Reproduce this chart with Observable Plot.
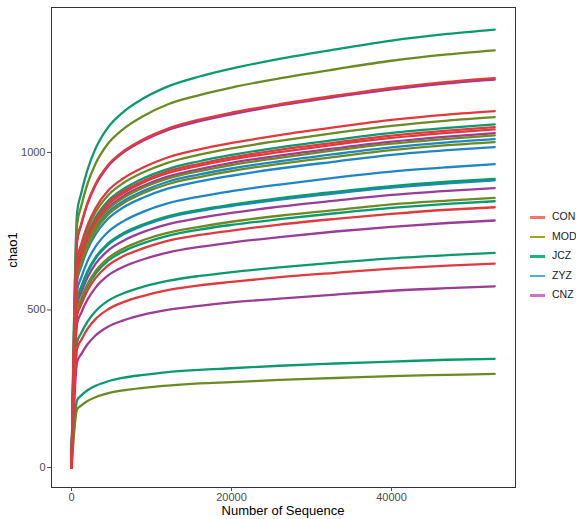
<!DOCTYPE html>
<html><head><meta charset="utf-8">
<script src="https://cdn.jsdelivr.net/npm/d3@7"></script>
<script src="https://cdn.jsdelivr.net/npm/@observablehq/plot@0.6"></script>
<style>
body{margin:0;background:#fff;font-family:"Liberation Sans",Arial,Helvetica,sans-serif;}
#wrap{position:relative;width:576px;height:519px;overflow:hidden;}
#wrap svg{position:absolute;left:0;top:0;}
.ttl{position:absolute;color:#000;font-size:13px;white-space:nowrap;}
.leg{position:absolute;left:530px;font-size:10.5px;color:#222;}
.leg .k{position:absolute;left:0;top:-1px;width:15px;height:2.5px;}
.leg .t{position:absolute;left:22px;top:-7px;white-space:nowrap;}
</style></head><body><div id="wrap"></div>
<script>
const depth = [0, 700, 1200, 2000, 3000, 4500, 6500, 9000, 12000, 16000, 20000, 26000, 33000, 40000, 47000, 52900];
const groups = ["CON", "MOD", "JCZ", "ZYZ", "CNZ"];
const lineColors = ["#E03A3E", "#6B8A24", "#0A9A6E", "#1F86C6", "#9B3C97"];
const legendColors = ["#F4766A", "#A3A520", "#1DB47A", "#4DAEE8", "#D070C8"];

// samples in drawing order (CNZ, ZYZ, JCZ, MOD, CON)
const sampleGroup = [
  "CNZ","CNZ","CNZ","CNZ","CNZ",
  "ZYZ","ZYZ","ZYZ","ZYZ",
  "JCZ","JCZ","JCZ","JCZ","JCZ","JCZ",
  "MOD","MOD","MOD","MOD","MOD","MOD",
  "CON","CON","CON","CON","CON","CON"
];
const chao1 = [
  [0, 718, 769, 837, 896, 954, 1000, 1038, 1071, 1099, 1121, 1149, 1176, 1200, 1219, 1231],
  [0, 619, 663, 721, 772, 822, 862, 894, 923, 947, 967, 990, 1013, 1034, 1050, 1061],
  [0, 517, 554, 603, 646, 687, 720, 748, 772, 792, 808, 828, 847, 865, 878, 887],
  [0, 457, 490, 533, 571, 608, 637, 661, 682, 700, 714, 731, 749, 764, 776, 784],
  [0, 335, 359, 391, 419, 446, 467, 485, 500, 513, 524, 536, 549, 561, 569, 575],
  [0, 607, 651, 709, 759, 808, 846, 878, 907, 930, 949, 972, 995, 1016, 1032, 1042],
  [0, 593, 636, 692, 740, 788, 826, 857, 885, 908, 926, 949, 971, 992, 1007, 1017],
  [0, 561, 602, 655, 701, 746, 782, 812, 838, 860, 877, 898, 920, 939, 953, 963],
  [0, 531, 569, 619, 663, 706, 740, 768, 793, 814, 830, 850, 870, 888, 902, 911],
  [0, 810, 869, 945, 1012, 1077, 1129, 1172, 1209, 1241, 1266, 1297, 1327, 1355, 1376, 1390],
  [0, 635, 681, 741, 793, 844, 884, 918, 947, 972, 992, 1016, 1040, 1062, 1078, 1089],
  [0, 534, 573, 623, 667, 710, 744, 772, 797, 818, 834, 855, 875, 893, 907, 916],
  [0, 493, 528, 575, 615, 655, 686, 712, 735, 755, 770, 788, 807, 824, 837, 845],
  [0, 397, 426, 463, 496, 528, 553, 574, 592, 608, 620, 635, 650, 664, 674, 681],
  [0, 214, 228, 245, 259, 273, 285, 294, 303, 310, 315, 323, 330, 336, 342, 345],
  [0, 772, 828, 900, 964, 1026, 1075, 1116, 1152, 1182, 1206, 1235, 1264, 1291, 1311, 1324],
  [0, 648, 695, 756, 810, 862, 903, 937, 967, 993, 1013, 1037, 1062, 1084, 1101, 1112],
  [0, 614, 659, 717, 767, 817, 856, 889, 917, 941, 960, 983, 1007, 1028, 1043, 1054],
  [0, 602, 646, 702, 752, 801, 839, 871, 899, 922, 941, 964, 986, 1007, 1023, 1033],
  [0, 499, 535, 582, 623, 663, 695, 722, 745, 764, 780, 799, 817, 835, 847, 856],
  [0, 184, 196, 211, 223, 235, 245, 253, 260, 267, 271, 278, 284, 290, 294, 297],
  [0, 721, 772, 840, 900, 958, 1004, 1042, 1075, 1104, 1126, 1153, 1180, 1205, 1224, 1236],
  [0, 659, 707, 769, 823, 877, 918, 953, 984, 1010, 1030, 1055, 1080, 1103, 1120, 1131],
  [0, 630, 675, 734, 786, 837, 877, 910, 940, 964, 984, 1008, 1031, 1053, 1069, 1080],
  [0, 626, 671, 730, 781, 832, 871, 905, 934, 958, 978, 1001, 1025, 1046, 1062, 1073],
  [0, 482, 516, 562, 601, 640, 671, 696, 719, 738, 752, 771, 789, 805, 818, 826],
  [0, 377, 404, 440, 471, 501, 525, 545, 563, 578, 589, 604, 618, 631, 641, 647]
];
const xTicks = [0, 20000, 40000];
const yTicks = [0, 500, 1000];

const rows = [];
sampleGroup.forEach((g, i) => depth.forEach((d, j) =>
  rows.push({sample: "S" + i, group: g, depth: d, chao1: chao1[i][j]})));

const plot = Plot.plot({
  width: 576, height: 519,
  marginLeft: 51, marginRight: 61, marginTop: 7, marginBottom: 32,
  style: {fontFamily: '"Liberation Sans", Arial, sans-serif', background: "#fff"},
  x: {domain: [-2500, 55500]},
  y: {domain: [-63.5, 1460]},
  color: {domain: groups, range: lineColors},
  marks: [
    Plot.line(rows, {x: "depth", y: "chao1", z: "sample", stroke: "group",
      strokeWidth: 2.3, curve: "monotone-x"}),
    Plot.frame({stroke: "#333", strokeWidth: 1}),
    Plot.axisX({ticks: xTicks, tickFormat: d => String(d), label: null,
      tickSize: 4, tickPadding: 2, fontSize: 11, color: "#4d4d4d"}),
    Plot.axisY({ticks: yTicks, tickFormat: d => String(d), label: null,
      tickSize: 4, tickPadding: 2, fontSize: 11, color: "#4d4d4d"})
  ]
});
const wrap = document.getElementById("wrap");
wrap.appendChild(plot);

function addDiv(cls, text, css) {
  const d = document.createElement("div");
  d.className = cls; d.textContent = text; Object.assign(d.style, css);
  wrap.appendChild(d); return d;
}
addDiv("ttl", "Number of Sequence", {left: "283px", top: "503px", transform: "translateX(-50%)"});
addDiv("ttl", "chao1", {left: "12px", top: "250px", transform: "translate(-50%,-50%) rotate(-90deg)"});

groups.forEach((g, i) => {
  const item = document.createElement("div");
  item.className = "leg";
  item.style.top = (217 + i * 19.5) + "px";
  const k = document.createElement("div");
  k.className = "k"; k.style.background = legendColors[i];
  const t = document.createElement("div");
  t.className = "t"; t.textContent = g;
  item.appendChild(k); item.appendChild(t);
  wrap.appendChild(item);
});
</script></body></html>
